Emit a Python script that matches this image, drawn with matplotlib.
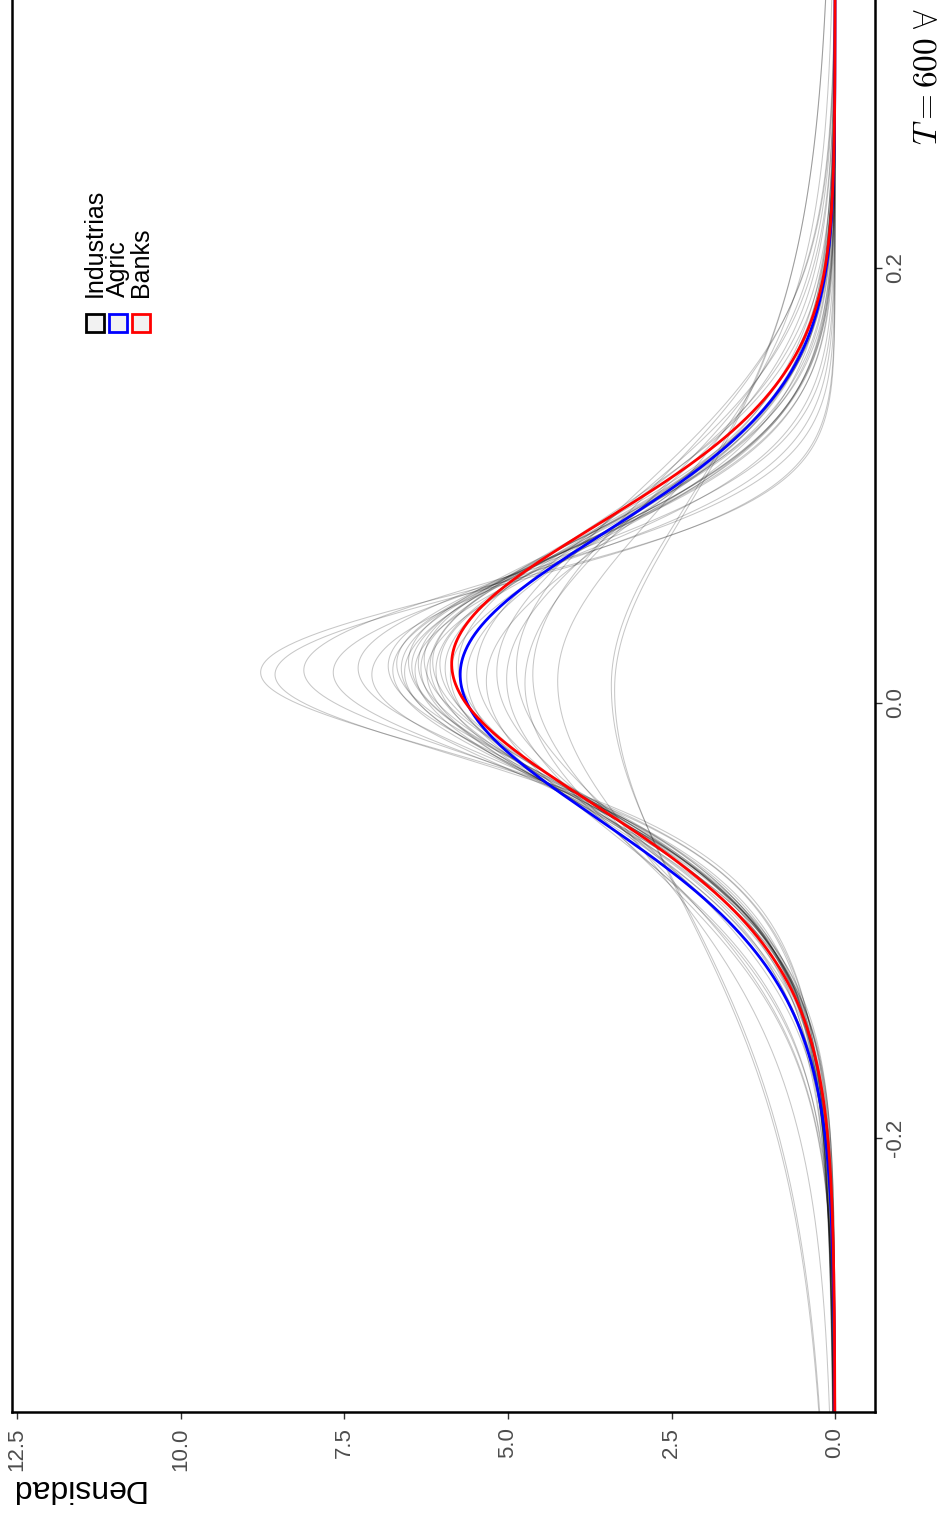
import math
import numpy as np
import matplotlib
matplotlib.use("Agg")
import matplotlib.pyplot as plt
from matplotlib.patches import Rectangle

# ---------------- data ----------------
legend_labels = ["Industrias", "Agric", "Banks"]
legend_colors = ["black", "blue", "red"]

density_ticks = [0.0, 2.5, 5.0, 7.5, 10.0, 12.5]
density_ticklabels = ["0.0", "2.5", "5.0", "7.5", "10.0", "12.5"]
return_ticks = [-0.2, 0.0, 0.2]
return_ticklabels = ["-0.2", "0.0", "0.2"]

# Industry densities: mode (return), peak height, tail df left/right, share of mass left of mode
ind_peak = [8.78, 8.56, 8.12, 7.67, 7.29, 7.08, 6.83, 6.76, 6.70, 6.63, 6.58, 6.52,
            6.47, 6.42, 6.37, 6.33, 6.28, 6.24, 6.19, 6.15, 6.10, 6.04, 5.96, 5.88,
            5.76, 5.63, 5.48, 5.33, 5.17, 5.02, 4.87, 4.74, 4.62, 4.24, 3.42, 3.37]
ind_mode = [0.014, 0.013, 0.015, 0.014, 0.016, 0.013, 0.017, 0.015, 0.018, 0.016, 0.014, 0.019,
            0.017, 0.015, 0.018, 0.016, 0.020, 0.014, 0.017, 0.019, 0.015, 0.018, 0.016, 0.013,
            0.017, 0.012, 0.015, 0.010, 0.014, 0.011, 0.016, 0.009, 0.013, 0.010, 0.008, 0.006]
ind_df_left = [2.5, 2.5, 3, 3, 3.5, 3.5, 4, 5, 4, 6, 5, 8,
               4, 10, 6, 12, 7, 5, 15, 9, 20, 6, 11, 8,
               25, 14, 30, 10, 40, 18, 50, 22, 30, 6, 4, 4]
ind_df_right = [50, 40, 50, 30, 40, 25, 20, 40, 12, 30, 50, 15,
                25, 8, 40, 20, 10, 30, 50, 12, 40, 8, 25, 15,
                50, 30, 50, 20, 50, 30, 50, 40, 50, 8, 4, 4]
ind_left_share = [0.56, 0.56, 0.55, 0.55, 0.55, 0.54, 0.54, 0.53, 0.54, 0.53, 0.52, 0.53,
                  0.54, 0.52, 0.53, 0.52, 0.53, 0.54, 0.51, 0.52, 0.51, 0.53, 0.52, 0.52,
                  0.50, 0.51, 0.50, 0.52, 0.49, 0.51, 0.49, 0.50, 0.50, 0.53, 0.55, 0.55]

agric_mode, agric_peak, agric_df_left, agric_df_right, agric_left_share = 0.013, 5.73, 12, 50, 0.52
banks_mode, banks_peak, banks_df_left, banks_df_right, banks_left_share = 0.018, 5.86, 12, 50, 0.515

# ---------------- helpers ----------------
def t_peak_const(nu):
    return math.exp(math.lgamma((nu + 1) / 2) - math.lgamma(nu / 2)) / math.sqrt(nu * math.pi)


def density(r, m, h, nu_l, nu_r, share):
    s_l = 2 * share * t_peak_const(nu_l) / h
    s_r = 2 * (1 - share) * t_peak_const(nu_r) / h
    d = r - m
    s = np.where(d < 0, s_l, s_r)
    nu = np.where(d < 0, nu_l, nu_r)
    return h * (1 + (d / s) ** 2 / nu) ** (-(nu + 1) / 2)


# ---------------- figure ----------------
W, H = 940, 1519
fig = plt.figure(figsize=(W / 100, H / 100), dpi=100)
plt.rcParams['mathtext.fontset'] = 'cm'
sans = ['Liberation Sans', 'DejaVu Sans']

left_px, right_px, bottom_px, top_px = 12, 875, 1412, -15
ax = fig.add_axes([left_px / W, (H - bottom_px) / H,
                   (right_px - left_px) / W, (bottom_px - top_px) / H])

r = np.linspace(-0.34, 0.34, 1400)
for m, h, nl, nr, sh in zip(ind_mode, ind_peak, ind_df_left, ind_df_right, ind_left_share):
    ax.plot(density(r, m, h, nl, nr, sh), r, color='black', alpha=0.22, lw=0.75)
ax.plot(density(r, agric_mode, agric_peak, agric_df_left, agric_df_right, agric_left_share), r,
        color='blue', lw=2.0)
ax.plot(density(r, banks_mode, banks_peak, banks_df_left, banks_df_right, banks_left_share), r,
        color='red', lw=2.0)

ax.set_xlim(12.58, -0.61)
ax.set_ylim(-0.326, 0.33)

ax.set_xticks(density_ticks)
ax.set_xticklabels(density_ticklabels, rotation=90, family=sans)
ax.yaxis.tick_right()
ax.set_yticks(return_ticks)
ax.set_yticklabels(return_ticklabels, rotation=90, va='center', family=sans)
ax.tick_params(axis='both', direction='out', length=5, width=1.0, color='#333333',
               labelcolor='#4D4D4D', labelsize=16)
ax.tick_params(axis='x', pad=6)
ax.tick_params(axis='y', pad=2)
for sp in ax.spines.values():
    sp.set_linewidth(1.8)
    sp.set_color('black')

# axis titles (rotated like the reference)
fig.text(144 / W, 1 - 1480 / H, "Densidad", rotation=180, rotation_mode='anchor',
         ha='left', va='baseline', fontsize=23, family=sans, color='black')
fig.text(937 / W, 1 - 145 / H, r"$T = 600\ \forall\ i$", rotation=90, rotation_mode='anchor',
         ha='left', va='baseline', fontsize=24, color='black')

# legend (drawn manually, rotated)
key_cx = [95, 118, 141]
key_cy = 323
key_size = 18
for cx, lab, col in zip(key_cx, legend_labels, legend_colors):
    rect = Rectangle(((cx - key_size / 2) / W, 1 - (key_cy + key_size / 2) / H),
                     key_size / W, key_size / H, transform=fig.transFigure,
                     facecolor='#F2F2F2', edgecolor=col, lw=2)
    fig.add_artist(rect)
    fig.text(cx / W, 1 - 297 / H, lab, rotation=90, rotation_mode='anchor',
             ha='left', va='center', fontsize=18, family=sans, color='black')

fig.savefig("out.png", dpi=100)
